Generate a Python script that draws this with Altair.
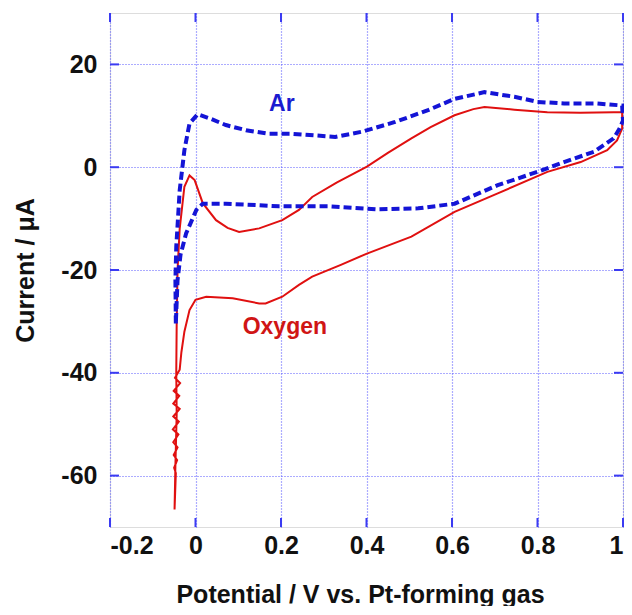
import altair as alt
import pandas as pd

# Oxygen (red, solid) cyclic voltammogram: anodic sweep then cathodic sweep
ox_x = [-0.049, -0.047, -0.044, -0.045, -0.044, -0.042, -0.037, -0.026, -0.014, -0.002, 0.017, 0.048, 0.075,
        0.102, 0.149, 0.203, 0.242, 0.273, 0.33, 0.401, 0.45, 0.505, 0.55, 0.606, 0.65, 0.676, 0.746,
        0.823, 0.9, 0.978, 0.998,
        0.998, 0.986, 0.963, 0.901, 0.823, 0.707, 0.606, 0.505, 0.401, 0.34, 0.273, 0.242, 0.203,
        0.164, 0.149, 0.087, 0.025, 0.0, -0.014, -0.026, -0.033, -0.037,
        -0.048, -0.036, -0.051, -0.038, -0.052, -0.037, -0.052, -0.039, -0.053, -0.040, -0.052,
        -0.042, -0.051, -0.043, -0.050, -0.046, -0.049]
ox_y = [-66.6, -58.0, -48.0, -40.0, -30.4, -20.0, -12.0, -3.8, -1.6, -2.5, -7.0, -10.3, -11.8,
        -12.6, -11.9, -10.3, -8.3, -5.8, -3.0, 0.1, 2.8, 5.6, 7.8, 10.1, 11.3, 11.7, 11.2,
        10.7, 10.6, 10.7, 10.7,
        7.5, 5.2, 3.3, 1.0, -0.9, -5.1, -8.7, -13.5, -16.8, -19.0, -21.3, -22.9, -25.2,
        -26.5, -26.5, -25.5, -25.2, -25.8, -27.8, -32.0, -36.0, -39.4,
        -41.0, -42.0, -43.5, -44.5, -46.0, -47.0, -48.5, -49.5, -51.0, -52.0, -53.5,
        -54.5, -56.0, -57.0, -58.5, -59.5, -66.6]

# Ar (blue, dashed) cyclic voltammogram
ar_x = [-0.046, -0.047, -0.045, -0.037, -0.026, -0.014, 0.005, 0.033, 0.071, 0.118, 0.172, 0.226,
        0.327, 0.389, 0.467, 0.544, 0.606, 0.676, 0.746, 0.8, 0.862, 0.94, 0.998,
        1.0, 0.992, 0.978, 0.932, 0.862, 0.8, 0.707, 0.606, 0.521, 0.428, 0.312, 0.195, 0.149,
        0.071, 0.033, 0.017, 0.002, -0.022, -0.035, -0.042, -0.046]
ar_y = [-30.4, -22.0, -15.5, -4.5, 3.3, 8.5, 10.3, 9.5, 8.2, 7.2, 6.5, 6.5,
        5.9, 6.9, 8.8, 11.1, 13.3, 14.6, 13.7, 12.7, 12.4, 12.4, 12.0,
        9.1, 7.5, 5.6, 3.0, 1.0, -0.9, -3.5, -7.1, -8.0, -8.2, -7.6, -7.6, -7.4,
        -7.1, -7.1, -7.1, -8.3, -12.9, -17.0, -22.0, -30.4]

x_ticks = [-0.2, 0, 0.2, 0.4, 0.6, 0.8, 1.0]
y_ticks = [-60, -40, -20, 0, 20]

labels = ["Ar", "Oxygen"]
label_x = [0.202, 0.209]
label_y = [12.2, -31.1]
label_colors = ["#1a1ad0", "#d01515"]

W, H = 513, 514
FRAME = "#3b3bf2"
FONT = "Liberation Sans"

xscale = alt.Scale(domain=[-0.2, 1.0], nice=False, zero=False)
yscale = alt.Scale(domain=[-70, 30], nice=False, zero=False)

ox = pd.DataFrame({"x": ox_x, "y": ox_y, "i": range(len(ox_x))})
ar = pd.DataFrame({"x": ar_x, "y": ar_y, "i": range(len(ar_x))})
lab = pd.DataFrame({"x": label_x, "y": label_y, "t": labels, "c": label_colors})
xt = pd.DataFrame({"v": x_ticks})
yt = pd.DataFrame({"v": y_ticks})

minus_fix = "replace(datum.label, '\u2212', '-')"

common = dict(grid=True, gridColor="#5a5aff", gridDash=[1, 2], gridWidth=1.2, gridOpacity=1,
              domain=False, ticks=False, labelFontSize=25, labelFont=FONT,
              labelFontWeight="bold", labelColor="#111111", titleFont=FONT, titleFontSize=25,
              titleFontWeight="bold", titleColor="#111111", titleAnchor="middle")

xaxis = alt.Axis(values=x_ticks, format=".1~f", labelExpr=minus_fix, title="Potential / V vs. Pt-forming gas",
                 labelPadding=6, titleX=250, titleY=75, titleBaseline="alphabetic", **common)
yaxis = alt.Axis(values=y_ticks, format="d", labelExpr=minus_fix, title="Current / \u03bcA",
                 labelPadding=13, titleX=-85, titleY=257, titleBaseline="middle", **common)

red = alt.Chart(ox).mark_line(color="#e01010", strokeWidth=2).encode(
    x=alt.X("x:Q", scale=xscale, axis=xaxis),
    y=alt.Y("y:Q", scale=yscale, axis=yaxis),
    order="i:Q",
)
blue = alt.Chart(ar).mark_line(color="#1414d6", strokeWidth=4, strokeDash=[8, 4]).encode(
    x=alt.X("x:Q", scale=xscale),
    y=alt.Y("y:Q", scale=yscale),
    order="i:Q",
)

tick_style = dict(color=FRAME, strokeWidth=2)
tl = alt.Chart(yt).mark_rule(**tick_style).encode(y=alt.Y("v:Q", scale=yscale), x=alt.value(0), x2=alt.value(9))
tr = alt.Chart(yt).mark_rule(**tick_style).encode(y=alt.Y("v:Q", scale=yscale), x=alt.value(W - 9), x2=alt.value(W))
tt = alt.Chart(xt).mark_rule(**tick_style).encode(x=alt.X("v:Q", scale=xscale), y=alt.value(0), y2=alt.value(9))
tb = alt.Chart(xt).mark_rule(**tick_style).encode(x=alt.X("v:Q", scale=xscale), y=alt.value(H - 9), y2=alt.value(H))

text = alt.Chart(lab).mark_text(font=FONT, fontSize=23, fontWeight="bold", align="center", baseline="middle").encode(
    x=alt.X("x:Q", scale=xscale),
    y=alt.Y("y:Q", scale=yscale),
    text="t:N",
    color=alt.Color("c:N", scale=None),
)

chart = alt.layer(red, blue, tl, tr, tt, tb, text).properties(
    width=W, height=H,
    autosize=alt.AutoSizeParams(type="none"),
    padding={"left": 102, "top": 5, "right": 1, "bottom": 79},
).configure_view(stroke=FRAME, strokeWidth=2).configure(background="white")

chart.save("out.html", embed_options={"renderer": "svg", "actions": False})
